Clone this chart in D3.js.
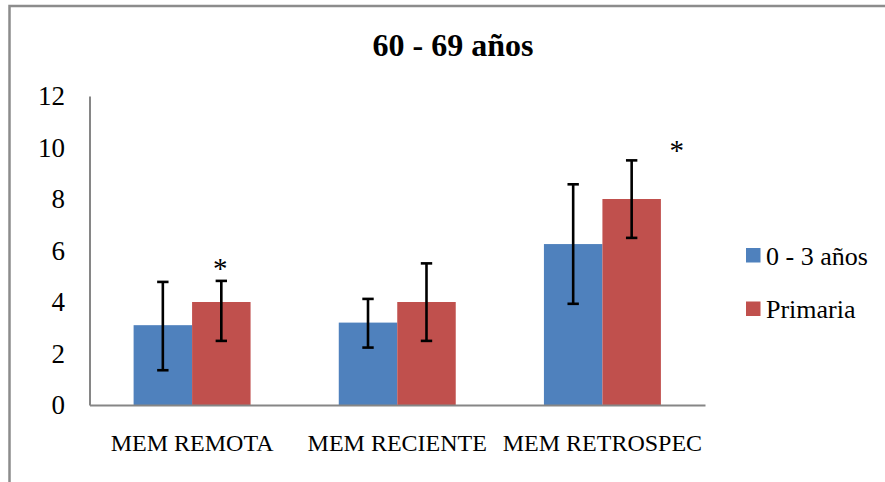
<!DOCTYPE html>
<html>
<head>
<meta charset="utf-8">
<script src="https://cdn.jsdelivr.net/npm/d3@7"></script>
<style>
  body { margin: 0; background: #fff; }
  svg text { font-family: "Liberation Serif", "Times New Roman", serif; fill: #000; }
</style>
</head>
<body>
<div id="chart"></div>
<script>
// values
const categories = ["MEM REMOTA", "MEM RECIENTE", "MEM RETROSPEC"];
const seriesNames = ["0 - 3 años", "Primaria"];
const seriesColors = ["#4F81BD", "#C0504D"];
const blueValues = [3.1, 3.2, 6.25];
const redValues = [4.0, 4.0, 8.0];
const blueLow = [1.35, 2.23, 3.93];
const blueHigh = [4.78, 4.12, 8.57];
const redLow = [2.49, 2.49, 6.49];
const redHigh = [4.82, 5.5, 9.5];
const yTicks = [0, 2, 4, 6, 8, 10, 12];
// significance stars, attached to the red bar of a category
const stars = [
  { cat: "MEM REMOTA", series: "Primaria", label: "*" },
  { cat: "MEM RETROSPEC", series: "Primaria", label: "*" }
];

const width = 885, height = 482;
const margin = { left: 89.5, right: 180, top: 96, bottom: 77 };

const svg = d3.select("#chart").append("svg")
  .attr("width", width).attr("height", height);

// chart frame (cut off at right and bottom in the original)
svg.append("rect")
  .attr("x", 9.5).attr("y", 6).attr("width", width + 20).attr("height", height + 20)
  .attr("fill", "none").attr("stroke", "#8c8c8c").attr("stroke-width", 2.5);

svg.append("text")
  .attr("x", 453).attr("y", 56)
  .attr("text-anchor", "middle")
  .style("font-size", "32px").style("font-weight", "bold")
  .text("60 - 69 años");

const x0 = d3.scaleBand().domain(categories).range([margin.left, 705]);
const x1 = d3.scaleBand().domain(seriesNames).range([0, x0.bandwidth()]).paddingOuter(0.754);
const y = d3.scaleLinear().domain([0, 12]).range([405, margin.top]);

const rows = categories.map((c, i) => ({
  cat: c,
  vals: [
    { s: seriesNames[0], v: blueValues[i], lo: blueLow[i], hi: blueHigh[i], c: seriesColors[0] },
    { s: seriesNames[1], v: redValues[i], lo: redLow[i], hi: redHigh[i], c: seriesColors[1] }
  ]
}));

const g = svg.append("g");
const grp = g.selectAll("g.grp").data(rows).enter().append("g")
  .attr("class", "grp")
  .attr("transform", d => `translate(${x0(d.cat)},0)`);

grp.selectAll("rect").data(d => d.vals).enter().append("rect")
  .attr("x", d => x1(d.s))
  .attr("y", d => y(d.v))
  .attr("width", x1.bandwidth())
  .attr("height", d => y(0) - y(d.v))
  .attr("fill", d => d.c);

// axes
const yAxis = svg.append("g")
  .attr("transform", `translate(${margin.left},0)`)
  .call(d3.axisLeft(y).tickValues(yTicks).tickSize(0).tickPadding(24.5));
yAxis.selectAll("text").style("font-size", "27px");
yAxis.select(".domain").attr("stroke", "#868686").attr("stroke-width", 2);

const xAxis = svg.append("g")
  .attr("transform", `translate(0,${y(0)})`)
  .call(d3.axisBottom(x0).tickSize(0).tickPadding(29));
xAxis.selectAll("text").style("font-size", "24px");
xAxis.select(".domain").attr("stroke", "#868686").attr("stroke-width", 2);

// error bars
const cap = 5.7;
const eb = grp.selectAll("g.err").data(d => d.vals).enter().append("g")
  .attr("class", "err")
  .attr("stroke", "#000").attr("stroke-width", 2.6);
const cx = d => x1(d.s) + x1.bandwidth() / 2;
eb.append("line").attr("x1", cx).attr("x2", cx).attr("y1", d => y(d.lo)).attr("y2", d => y(d.hi));
eb.append("line").attr("x1", d => cx(d) - cap).attr("x2", d => cx(d) + cap).attr("y1", d => y(d.hi)).attr("y2", d => y(d.hi));
eb.append("line").attr("x1", d => cx(d) - cap).attr("x2", d => cx(d) + cap).attr("y1", d => y(d.lo)).attr("y2", d => y(d.lo));

// stars: placed just above the error bar, last one nudged to the right
svg.selectAll("text.star").data(stars).enter().append("text")
  .attr("class", "star")
  .attr("text-anchor", "middle")
  .style("font-size", "29px")
  .attr("x", d => {
    const base = x0(d.cat) + x1(d.series) + x1.bandwidth() / 2;
    return d.cat === "MEM RETROSPEC" ? base + 45 : base - 1;
  })
  .attr("y", d => {
    const i = categories.indexOf(d.cat);
    const top = y(d.series === "Primaria" ? redHigh[i] : blueHigh[i]);
    return top + (d.cat === "MEM RETROSPEC" ? 0 : -3);
  })
  .text(d => d.label);

// legend
const leg = svg.append("g").attr("transform", "translate(746,248)");
const li = leg.selectAll("g").data(seriesNames).enter().append("g")
  .attr("transform", (d, i) => `translate(0,${i * 53.5})`);
li.append("rect").attr("width", 14.5).attr("height", 14.5).attr("fill", (d, i) => seriesColors[i]);
li.append("text").attr("x", 20).attr("y", 16.5).style("font-size", "26px").text(d => d);
</script>
</body>
</html>
